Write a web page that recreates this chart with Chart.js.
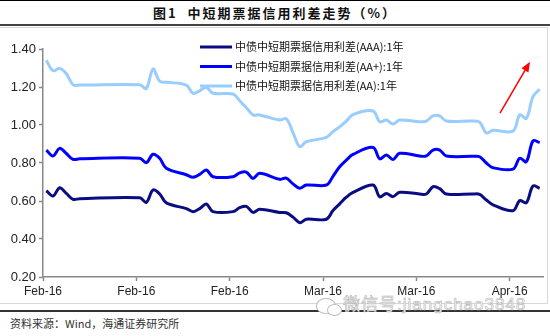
<!DOCTYPE html>
<html>
<head>
<meta charset="utf-8">
<script src="https://cdn.jsdelivr.net/npm/chart.js@4.4.1/dist/chart.umd.min.js"></script>
<style>
  html, body { margin: 0; padding: 0; background: #fff; }
  #wrap { position: relative; width: 550px; height: 336px; overflow: hidden; font-family: "Noto Sans CJK SC", sans-serif; }
  #topline { position: absolute; left: 0; top: 0; width: 550px; height: 1px; background: #000; }
  #title { position: absolute; left: 0; top: 4px; width: 550px; text-align: center; font-size: 13px; font-weight: bold; letter-spacing: 2px; line-height: 18px; color: #111; }
  #titleline { position: absolute; left: 0; top: 24px; width: 550px; height: 2px; background: #444; }
  #frame { position: absolute; left: -1px; top: 27px; width: 547px; height: 275px; border: 1px solid #d8d8d8; }
  #sepline { position: absolute; left: 0; top: 310px; width: 550px; height: 2px; background: #333; }
  #source { position: absolute; left: 10px; top: 315px; font-size: 11px; line-height: 16px; color: #333; }
  #mark { position: absolute; left: 343px; top: 295px; font-size: 17px; line-height: 20px; letter-spacing: 1px; color: #fff; -webkit-text-stroke: 0.6px #b4b4b4; font-family: "Liberation Sans", "Noto Sans CJK SC", sans-serif; }
  .bubble { position: absolute; border: 1px solid #bcbcbc; border-radius: 50%; background: #fff; }
  canvas { position: absolute; left: 0; top: 0; }
</style>
</head>
<body>
<div id="wrap">
  <div id="topline"></div>
  <div id="title">图1&nbsp;&nbsp;中短期票据信用利差走势（%）</div>
  <div id="titleline"></div>
  <div id="frame"></div>
  <div id="sepline"></div>
  <div id="source">资料来源：Wind，海通证券研究所</div>
  <div class="bubble" style="left:316px;top:298px;width:18px;height:14px;"></div>
  <div class="bubble" style="left:327px;top:304px;width:13px;height:10px;"></div>
  <div id="mark">微信号:jiangchao3848</div>
  <canvas id="myChart" width="550" height="336"></canvas>
</div>
<script>
// trading days, counted from 1 Feb 2016
var days = [0, 1, 2, 3, 4, 5,
  14, 15, 16, 17, 18,
  21, 22, 23, 24, 25,
  28, 29, 30, 31, 32,
  35, 36, 37, 38, 39,
  42, 43, 44, 45, 46,
  49, 50, 51, 52, 53,
  56, 57, 58, 59, 60,
  64, 65, 66, 67,
  70, 71, 72, 73, 74];

var aaa = [0.654, 0.626, 0.670, 0.640, 0.609, 0.612,
  0.617, 0.593, 0.658, 0.637, 0.590,
  0.560, 0.544, 0.560, 0.584, 0.544,
  0.544, 0.565, 0.572, 0.540, 0.556,
  0.540, 0.538, 0.515, 0.486, 0.504,
  0.504, 0.550, 0.585, 0.620, 0.645,
  0.684, 0.622, 0.640, 0.623, 0.646,
  0.637, 0.637, 0.675, 0.665, 0.637,
  0.637, 0.635, 0.605, 0.580,
  0.549, 0.602, 0.591, 0.679, 0.667];

var aaPlus = [0.868, 0.837, 0.877, 0.850, 0.819, 0.822,
  0.825, 0.802, 0.846, 0.825, 0.772,
  0.738, 0.725, 0.740, 0.763, 0.728,
  0.728, 0.748, 0.752, 0.719, 0.746,
  0.714, 0.720, 0.690, 0.667, 0.684,
  0.684, 0.730, 0.780, 0.815, 0.845,
  0.882, 0.822, 0.842, 0.819, 0.851,
  0.837, 0.837, 0.868, 0.868, 0.837,
  0.835, 0.833, 0.800, 0.775,
  0.768, 0.825, 0.807, 0.917, 0.907];

var aa = [1.340, 1.286, 1.298, 1.270, 1.212, 1.210,
  1.212, 1.192, 1.295, 1.230, 1.225,
  1.210, 1.167, 1.180, 1.199, 1.167,
  1.163, 1.128, 1.091, 1.053, 1.053,
  1.026, 1.033, 0.960, 0.886, 0.912,
  0.935, 0.965, 0.990, 1.020, 1.055,
  1.074, 1.017, 1.026, 1.005, 1.026,
  1.017, 1.021, 1.048, 1.048, 1.021,
  1.021, 1.015, 0.958, 0.972,
  0.968, 1.053, 1.035, 1.149, 1.188];

var seriesNames = ['中债中短期票据信用利差(AAA):1年', '中债中短期票据信用利差(AA+):1年', '中债中短期票据信用利差(AA):1年'];
var seriesColors = ['#0b0b82', '#0000ff', '#99ccff'];

var tickDays = [0, 14, 28, 42, 56, 70];
var tickLabels = ['Feb-16', 'Feb-16', 'Feb-16', 'Mar-16', 'Mar-16', 'Apr-16'];

// red trend arrow, in (day, value)
var arrowFrom = [68.05, 1.062];
var arrowTo = [72.55, 1.333];

var allSeries = [aaa, aaPlus, aa];

var legendPlugin = {
  id: 'sideLegend',
  afterDraw: function(chart) {
    var ctx = chart.ctx, area = chart.chartArea;
    ctx.save();
    ctx.font = '11px "Noto Sans CJK SC", sans-serif';
    ctx.textBaseline = 'middle';
    ctx.fillStyle = '#111';
    chart.data.datasets.forEach(function(ds, i) {
      var x = area.left + 157;
      var y = area.top - 2 + i * 19.5;
      ctx.strokeStyle = ds.borderColor;
      ctx.lineWidth = 3;
      ctx.beginPath();
      ctx.moveTo(x, y);
      ctx.lineTo(x + 32, y);
      ctx.stroke();
      ctx.fillText(ds.label, x + 35, y);
    });
    ctx.restore();
  }
};

var arrowPlugin = {
  id: 'trendArrow',
  afterDatasetsDraw: function(chart) {
    var ctx = chart.ctx, sx = chart.scales.x, sy = chart.scales.y;
    var x0 = sx.getPixelForValue(arrowFrom[0]), y0 = sy.getPixelForValue(arrowFrom[1]);
    var x1 = sx.getPixelForValue(arrowTo[0]), y1 = sy.getPixelForValue(arrowTo[1]);
    var a = Math.atan2(y1 - y0, x1 - x0);
    var c = Math.cos(a), s = Math.sin(a);
    ctx.save();
    ctx.strokeStyle = '#ff0000';
    ctx.fillStyle = '#ff0000';
    ctx.lineWidth = 1.5;
    ctx.beginPath();
    ctx.moveTo(x0, y0);
    ctx.lineTo(x1 - 7 * c, y1 - 7 * s);
    ctx.stroke();
    ctx.beginPath();
    ctx.moveTo(x1, y1);
    ctx.lineTo(x1 - 10 * c + 4 * s, y1 - 10 * s - 4 * c);
    ctx.lineTo(x1 - 10 * c - 4 * s, y1 - 10 * s + 4 * c);
    ctx.closePath();
    ctx.fill();
    ctx.restore();
  }
};

Chart.defaults.font.family = '"Liberation Sans", Arial, sans-serif';
Chart.defaults.font.size = 12;
Chart.defaults.color = '#222';

var ctx = document.getElementById('myChart').getContext('2d');

var config = {
  type: 'line',
  data: {
    datasets: seriesNames.map(function(name, i) {
      return {
        label: name,
        data: days.map(function(d, j) { return { x: d, y: allSeries[i][j] }; }),
        borderColor: seriesColors[i],
        backgroundColor: seriesColors[i],
        borderWidth: 3,
        pointRadius: 0,
        tension: 0.35,
        fill: false
      };
    })
  },
  options: {
    responsive: false,
    animation: false,
    devicePixelRatio: 1,
    layout: { padding: { top: 49, right: 7, left: 0, bottom: 0 } },
    plugins: {
      legend: { display: false },
      tooltip: { enabled: false }
    },
    scales: {
      x: {
        type: 'linear',
        min: -0.5,
        max: 74.5,
        afterBuildTicks: function(scale) {
          scale.ticks = tickDays.map(function(d) { return { value: d - 0.5 }; });
        },
        afterFit: function(scale) { scale.height = 59; },
        ticks: {
          autoSkip: false,
          maxRotation: 0,
          padding: 3,
          color: '#222',
          callback: function(v, i) { return tickLabels[i]; }
        },
        grid: { drawOnChartArea: false, color: '#888', tickLength: 4, tickWidth: 1.5 },
        border: { color: '#888', width: 1.5 }
      },
      y: {
        min: 0.2,
        max: 1.4,
        afterFit: function(scale) { scale.width = 43; },
        ticks: {
          stepSize: 0.2,
          padding: 3,
          color: '#222',
          font: { size: 13 },
          callback: function(v) { return v.toFixed(2); }
        },
        grid: { drawOnChartArea: false, color: '#888', tickLength: 4, tickWidth: 1.5 },
        border: { color: '#888', width: 1.5 }
      }
    }
  },
  plugins: [arrowPlugin, legendPlugin]
};

var chart = new Chart(ctx, config);
</script>
</body>
</html>
